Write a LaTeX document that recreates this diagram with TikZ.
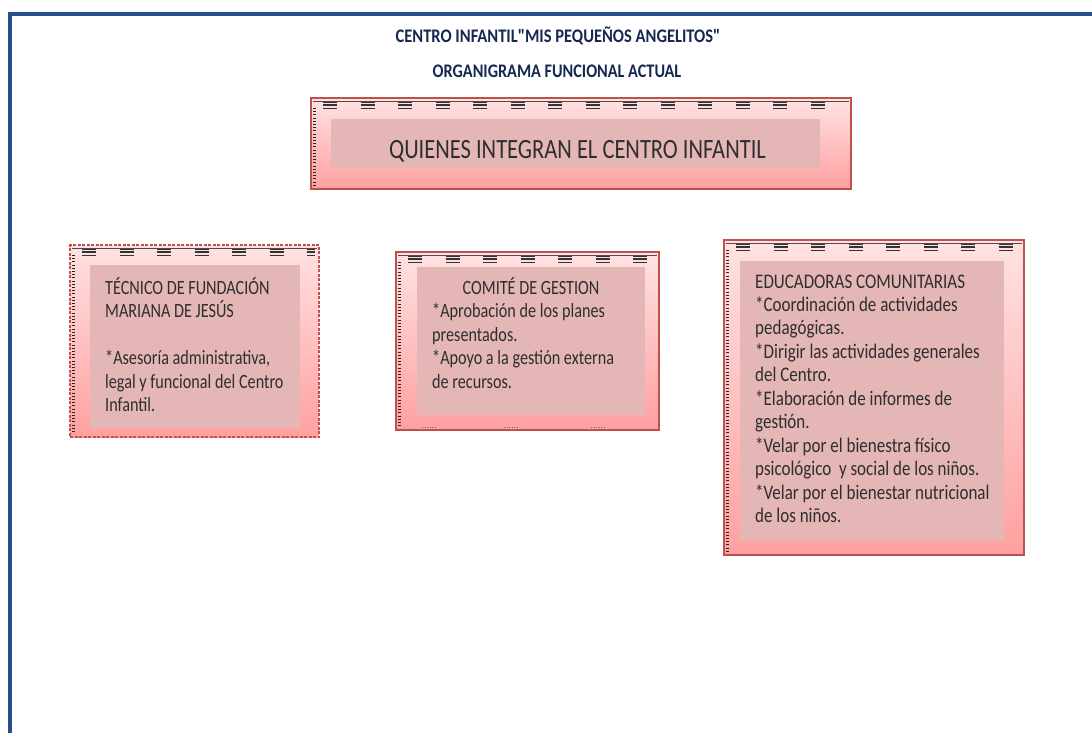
\documentclass[tikz,border=0pt]{standalone}
\usepackage{fontspec}
\usepackage{graphicx}
\setmainfont{Carlito}[Ligatures=TeXOff]
\definecolor{frameblue}{RGB}{38,80,138}
\definecolor{titleblue}{RGB}{22,40,80}
\definecolor{boxborder}{RGB}{192,80,77}
\definecolor{boxtop}{RGB}{255,226,226}
\definecolor{boxbot}{RGB}{255,160,160}
\definecolor{innerfill}{RGB}{228,182,182}
\tikzset{
  outerbox/.style={draw=boxborder, line width=1.6pt, top color=boxtop, bottom color=boxbot, inner sep=0pt},
  innerbox/.style={fill=innerfill, inner sep=0pt},
  titletext/.style={font=\bfseries\fontsize{15}{16}\selectfont, text=titleblue, inner sep=0pt, anchor=base},
  bodytext/.style={inner sep=0pt, text=black!82, anchor=base west},
  topdeco/.style={line width=1.1pt, black!80, dash pattern=on 14pt off 23.5pt},
  linkdeco/.style={line width=0.6pt, black!60, dash pattern=on 1pt off 1pt},
  sidedeco/.style={line width=3pt, black!85, dash pattern=on 1pt off 2.2pt}
}
% #1 yscale, #2 font size, #3 baselineskip (unscaled), #4 text
\newcommand{\talltext}[4]{\scalebox{1}[#1]{\fontsize{#2}{#3}\selectfont\begin{tabular}[t]{@{}l@{}}#4\end{tabular}}}
\newcommand{\decobox}[4]{%
  \draw[black!70, line width=0.5pt] (#1+2,#2+3) -- (#3-2,#2+3);
  \draw[topdeco, dash phase=-6pt] (#1+6,#2+4.5) -- (#3-4,#2+4.5);
  \draw[topdeco, dash phase=-6pt] (#1+6,#2+7) -- (#3-4,#2+7);
  \draw[topdeco, line width=0.8pt, dash phase=-6pt] (#1+6,#2+10.5) -- (#3-4,#2+10.5);
  \draw[sidedeco] (#1+3,#2+10) -- (#1+3,#4-4);
}
\begin{document}
\begin{tikzpicture}[x=1pt,y=-1pt]
\useasboundingbox (0,0) rectangle (1092,733);
\fill[white] (0,0) rectangle (1092,733);
% frame
\draw[frameblue, line width=4pt] (10,733) -- (10,14) -- (1092,14);

% titles
\node[titletext] (t1) at (558,43) {\scalebox{1.1}[1.28]{CENTRO INFANTIL"MIS PEQUEÑOS ANGELITOS"}};
\node[titletext] (t2) at (557,78) {\scalebox{1.08}[1.28]{ORGANIGRAMA FUNCIONAL ACTUAL}};

% top box
\node[outerbox, minimum width=540pt, minimum height=91pt] (topo) at (581,143.5) {};
\decobox{311}{98}{851}{189}
\node[innerbox, minimum width=489pt, minimum height=49pt] (topi) at (575.5,143.5) {};
\node[bodytext, anchor=base] (topt) at (577.5,158) {\scalebox{1}[1.24]{\fontsize{22.5}{26}\selectfont QUIENES INTEGRAN EL CENTRO INFANTIL}};

% left box
\node[outerbox, dash pattern=on 3pt off 1.5pt, minimum width=249pt, minimum height=192pt] (lefto) at (194.5,341) {};
\decobox{70}{245}{319}{437}
\node[innerbox, minimum width=210pt, minimum height=163pt] (lefti) at (195,346.5) {};
\node[bodytext] (leftt) at (105,294) {\talltext{1.25}{16.2}{18.8}{TÉCNICO DE FUNDACIÓN\\MARIANA DE JESÚS\\ \\{*}Asesoría administrativa,\\legal y funcional del Centro\\Infantil.}};

% middle box
\node[outerbox, minimum width=263pt, minimum height=178pt] (mido) at (527.5,341) {};
\decobox{396}{252}{659}{430}
\node[innerbox, minimum width=228pt, minimum height=148pt] (midi) at (531,341) {};
\node[bodytext, anchor=base] (midh) at (531,294) {\talltext{1.25}{16.2}{18.8}{COMITÉ DE GESTION}};
\node[bodytext] (midt) at (432,317.5) {\talltext{1.25}{16.2}{18.8}{{*}Aprobación de los planes\\presentados.\\{*}Apoyo a la gestión externa\\de recursos.}};
\draw[black!60, line width=0.8pt, dash pattern=on 1pt off 1.5pt] (422,427) -- (437,427) (504,427) -- (519,427) (591,427) -- (606,427);

% right box
\node[outerbox, minimum width=300pt, minimum height=315pt] (righto) at (874,397.5) {};
\decobox{724}{240}{1024}{555}
\node[innerbox, minimum width=264pt, minimum height=280pt] (righti) at (872,401) {};
\node[bodytext] (rightt) at (755,288) {\talltext{1.22}{17}{19.26}{EDUCADORAS COMUNITARIAS\\{*}Coordinación de actividades\\pedagógicas.\\{*}Dirigir las actividades generales\\del Centro.\\{*}Elaboración de informes de\\gestión.\\{*}Velar por el bienestra físico\\psicológico \ y social de los niños.\\{*}Velar por el bienestar nutricional\\de los niños.}};
\end{tikzpicture}
\end{document}
